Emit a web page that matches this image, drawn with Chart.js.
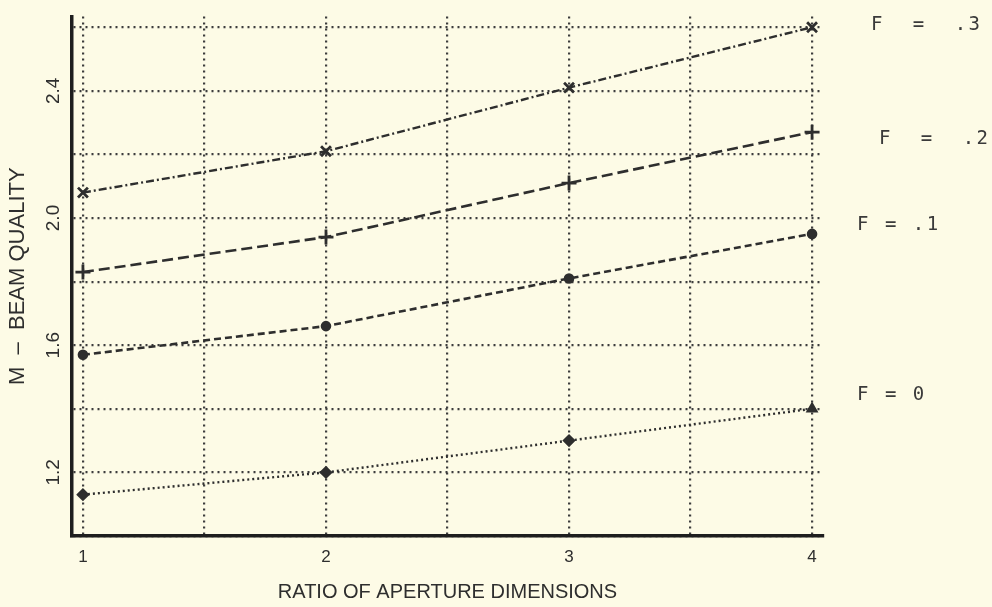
<!DOCTYPE html>
<html>
<head>
<meta charset="utf-8">
<script src="https://cdn.jsdelivr.net/npm/chart.js@4/dist/chart.umd.min.js"></script>
<style>
  html, body { margin: 0; padding: 0; background: #fdfbe6; }
  canvas { display: block; }
</style>
</head>
<body>
<canvas id="myChart" width="992" height="607"></canvas>
<script>
/* data */
const ratios = [1, 2, 3, 4];
const f3 = [2.08, 2.21, 2.41, 2.60];
const f2 = [1.83, 1.94, 2.11, 2.27];
const f1 = [1.57, 1.66, 1.81, 1.95];
const f0 = [1.13, 1.20, 1.30, 1.40];
const seriesNames = ['F  =  .3', 'F  =  .2', 'F = .1', 'F = 0'];

const xGrid = [1, 1.5, 2, 2.5, 3, 3.5, 4];
const xLabels = [1, 2, 3, 4];
const yGrid = [1.0, 1.2, 1.4, 1.6, 1.8, 2.0, 2.2, 2.4, 2.6];
const yLabels = ['1.2', '1.6', '2.0', '2.4'];

const ink = '#2e2e2e';

function pts(vals) {
  return ratios.map(function (r, i) { return { x: r, y: vals[i] }; });
}

/* background + right side labels */
const paper = {
  id: 'paper',
  beforeDraw: function (chart) {
    const c = chart.ctx;
    c.save();
    c.fillStyle = '#fdfbe6';
    c.fillRect(0, 0, chart.width, chart.height);
    c.restore();
  }
};

const nudges = [[871, -2], [879, 7], [857, -9], [857, -14]];

const sideLabels = {
  id: 'sideLabels',
  afterDraw: function (chart) {
    const c = chart.ctx;
    const ys = chart.scales.y;
    c.save();
    c.font = '19px "DejaVu Sans Mono"';
    c.fillStyle = '#3a3a3a';
    c.textBaseline = 'middle';
    c.letterSpacing = '2.5px';
    chart.data.datasets.forEach(function (ds, i) {
      const last = ds.data[ds.data.length - 1].y;
      c.fillText(seriesNames[i], nudges[i][0], ys.getPixelForValue(last) + nudges[i][1]);
    });
    c.restore();
  }
};

var ctx = document.getElementById('myChart').getContext('2d');
new Chart(ctx, {
  type: 'line',
  data: {
    datasets: [
      {
        label: seriesNames[0],
        data: pts(f3),
        borderColor: ink,
        backgroundColor: ink,
        borderWidth: 2.4,
        borderDash: [8, 3, 2, 3],
        pointStyle: 'crossRot',
        pointRadius: 7,
        pointBorderWidth: 2.8,
      },
      {
        label: seriesNames[1],
        data: pts(f2),
        borderColor: ink,
        backgroundColor: ink,
        borderWidth: 2.6,
        borderDash: [11, 5],
        pointStyle: 'cross',
        pointRadius: 7.5,
        pointBorderWidth: 2.8,
      },
      {
        label: seriesNames[2],
        data: pts(f1),
        borderColor: ink,
        backgroundColor: ink,
        borderWidth: 2.6,
        borderDash: [7, 4],
        pointStyle: 'circle',
        pointRadius: 4,
      },
      {
        label: seriesNames[3],
        data: pts(f0),
        borderColor: ink,
        backgroundColor: ink,
        borderWidth: 2.4,
        borderDash: [2, 3],
        pointStyle: ['rectRot', 'rectRot', 'rectRot', 'triangle'],
        pointRadius: 5,
      },
    ],
  },
  options: {
    responsive: false,
    animation: false,
    layout: { padding: { left: 4, right: 169, top: 11, bottom: 3 } },
    plugins: {
      legend: { display: false },
      tooltip: { enabled: false },
    },
    scales: {
      x: {
        type: 'linear',
        min: 0.955,
        max: 4.045,
        afterBuildTicks: function (s) {
          s.ticks = xGrid.map(function (v) { return { value: v }; });
        },
        afterFit: function (s) { s.height = 68; },
        grid: {
          color: '#3c3c3c',
          lineWidth: 2.2,
          drawTicks: false,
        },
        border: { display: true, color: '#1e1e1e', width: 3.5, dash: [2, 4] },
        ticks: {
          color: '#2e2e2e',
          font: { family: '"Liberation Sans"', size: 17 },
          padding: 11,
          maxRotation: 0,
          autoSkip: false,
          callback: function (v) { return xLabels.indexOf(v) >= 0 ? String(v) : ''; },
        },
        title: {
          display: true,
          text: 'RATIO OF APERTURE DIMENSIONS',
          color: '#2e2e2e',
          font: { family: '"Liberation Sans"', size: 20 },
          padding: 0,
        },
      },
      y: {
        type: 'linear',
        min: 1.0,
        max: 2.634,
        afterBuildTicks: function (s) {
          s.ticks = yGrid.map(function (v) { return { value: v }; });
        },
        afterFit: function (s) { s.width = 68; },
        grid: {
          color: '#3c3c3c',
          lineWidth: 2.2,
          drawTicks: false,
        },
        border: { display: true, color: '#1e1e1e', width: 3.5, dash: [2, 4] },
        ticks: {
          color: '#2e2e2e',
          font: { family: '"Liberation Sans"', size: 19 },
          padding: 5,
          minRotation: 90,
          maxRotation: 90,
          crossAlign: 'center',
          autoSkip: false,
          callback: function (v) {
            const t = v.toFixed(1);
            return yLabels.indexOf(t) >= 0 ? t : '';
          },
        },
        title: {
          display: true,
          text: 'M  \u2013  BEAM QUALITY',
          color: '#2e2e2e',
          font: { family: '"Liberation Sans"', size: 22 },
          padding: { top: 1, bottom: 0 },
        },
      },
    },
  },
  plugins: [paper, sideLabels],
});
</script>
</body>
</html>
